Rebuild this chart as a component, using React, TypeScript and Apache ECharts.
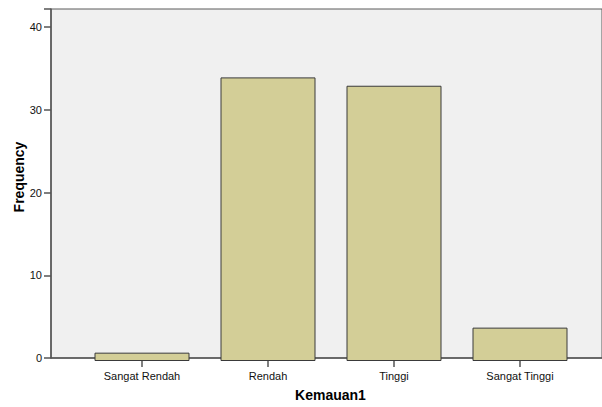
import React, { useEffect, useRef } from "react";
import * as echarts from "echarts";

const categories = ["Sangat Rendah", "Rendah", "Tinggi", "Sangat Tinggi"];
const frequencies = [1, 34, 33, 4];
const yTicks = [0, 10, 20, 30, 40];

const FONT = "'Liberation Sans', Arial, sans-serif";

export default function App() {
  const ref = useRef<HTMLDivElement>(null);
  useEffect(() => {
    if (!ref.current) return;
    const chart = echarts.init(ref.current, null, { renderer: "svg" });
    const yMax = 42.2;
    chart.setOption({
      animation: false,
      backgroundColor: "#ffffff",
      textStyle: { fontFamily: FONT },
      grid: [
        {
          left: 51,
          top: 9,
          width: 556,
          bottom: 46,
          show: true,
          backgroundColor: "#f0f0f0",
          borderColor: "#5a5a5a",
          borderWidth: 1,
        },
        { left: 79, top: 9, width: 504, bottom: 46 },
      ],
      xAxis: [
        {
          gridIndex: 0,
          type: "value",
          min: 0,
          max: 1,
          axisLine: { show: true, onZero: false, lineStyle: { color: "#555555", width: 1.5 } },
          axisTick: { show: false },
          axisLabel: { show: false },
          splitLine: { show: false },
          name: "Kemauan1",
          nameLocation: "middle",
          nameGap: 30,
          nameMoveOverlap: false,
          nameTextStyle: {
            fontFamily: FONT,
            fontSize: 14,
            fontWeight: "bold",
            color: "#000",
            padding: [0, 0, 0, 8],
          },
        },
        {
          gridIndex: 1,
          type: "category",
          data: categories,
          boundaryGap: true,
          axisLine: { show: false },
          axisTick: { show: true, alignWithLabel: true, length: 6, lineStyle: { color: "#555555", width: 1.5 } },
          axisLabel: { fontFamily: FONT, fontSize: 11, color: "#111", margin: 9 },
        },
      ],
      yAxis: [
        {
          gridIndex: 0,
          type: "value",
          min: 0,
          max: yMax,
          interval: 10,
          axisLine: { show: true, lineStyle: { color: "#555555", width: 1.5 } },
          axisTick: { show: true, length: 7, lineStyle: { color: "#555555", width: 1.5 } },
          axisLabel: {
            fontFamily: FONT,
            fontSize: 11,
            color: "#111",
            margin: 9,
            formatter: (v: number) => (yTicks.includes(v) ? String(v) : ""),
          },
          splitLine: { show: false },
          name: "Frequency",
          nameLocation: "middle",
          nameGap: 25,
          nameMoveOverlap: false,
          nameTextStyle: {
            fontFamily: FONT,
            fontSize: 14,
            fontWeight: "bold",
            color: "#000",
            padding: [0, 0, 0, 13],
          },
        },
        {
          gridIndex: 1,
          type: "value",
          min: 0,
          max: yMax,
          show: false,
        },
      ],
      series: [
        {
          type: "bar",
          xAxisIndex: 1,
          yAxisIndex: 1,
          data: frequencies,
          barWidth: 95,
          itemStyle: { color: "#d3ce97", borderColor: "#3a3a3a", borderWidth: 1 },
        },
      ],
    });
    return () => chart.dispose();
  }, []);
  return (
    <div
      ref={ref}
      style={{ position: "fixed", left: 0, top: 0, width: 602, height: 407 }}
    />
  );
}
